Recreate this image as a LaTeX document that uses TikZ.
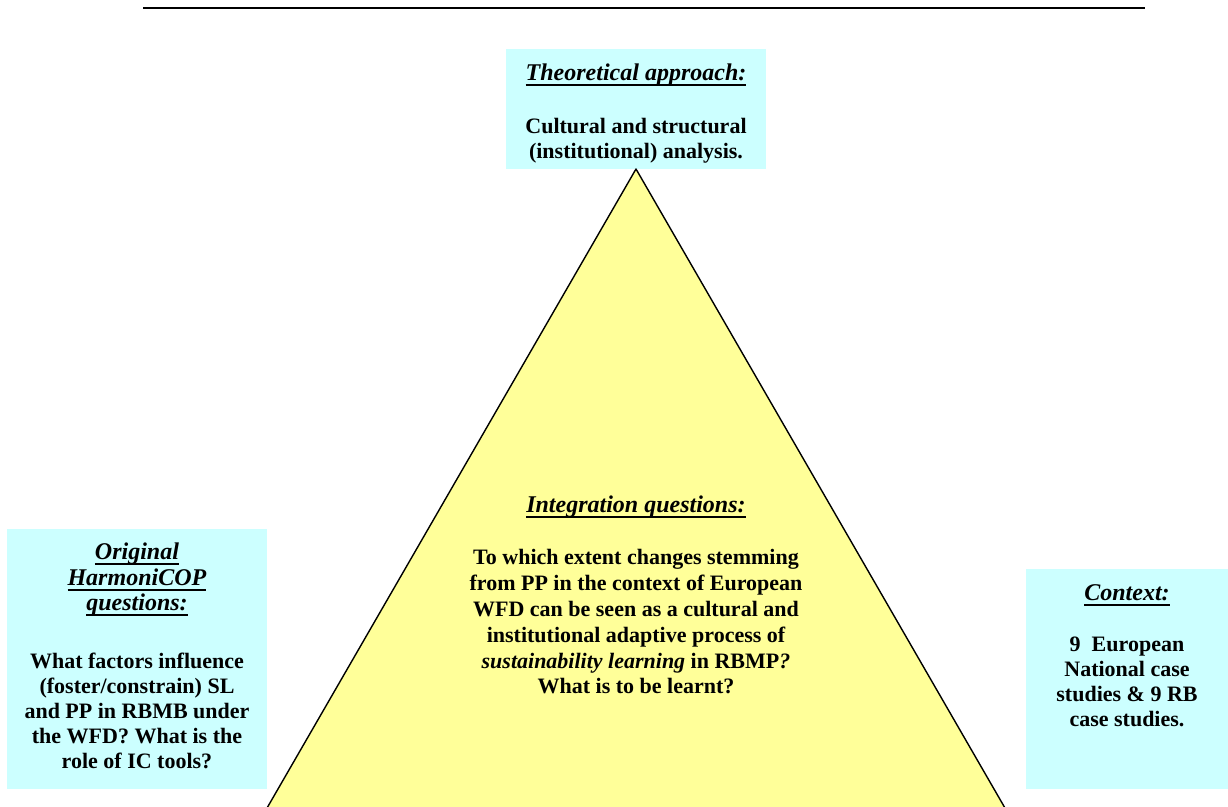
\documentclass[tikz,border=0pt]{standalone}
\usepackage{fontspec}
\setmainfont{Liberation Serif}
\usetikzlibrary{positioning}
\definecolor{cyanpale}{HTML}{CCFFFF}
\definecolor{jaunepale}{HTML}{FFFF99}
%% titre souligne, italique 12pt
\newsavebox\boitetitre
\newcommand\rubrique[1]{{\fontsize{12}{13}\selectfont
  \sbox\boitetitre{\textit{#1}}\rlap{\rule[-2.9pt]{\wd\boitetitre}{0.9pt}}\usebox\boitetitre}}

\begin{document}
\begin{tikzpicture}[x=0.5pt,y=-0.5pt,
  cadre/.style={fill=cyanpale, draw=none, inner sep=0pt, anchor=north west},
  texte/.style={font=\fontsize{11}{12.5}\selectfont\bfseries, align=center, inner sep=0pt, anchor=north},
  bord/.style={line width=0.7pt, line join=round}]
\clip (0,0) rectangle (1228,807);
\fill[white] (0,0) rectangle (1228,807);

%% filet du haut
\coordinate (filetg) at (143,8);
\coordinate (filetd) at (1145,8);
\draw[line width=1pt] (filetg) -- (filetd);

%% ================= cadres bleus ==========================================
\node[cadre, minimum width=130pt, minimum height=60pt] (theo) at (506,49) {};
\node[cadre, minimum width=130pt, minimum height=130pt] (orig) at (7,529) {};
\node[cadre, minimum width=110pt, minimum height=110pt] (cont) at (1026,569) {};

%% ================= triangle jaune ========================================
\coordinate (sommet) at (636,169);
\coordinate (baseg) at (237,860);
\coordinate (based) at (1035,860);
\fill[jaunepale] (baseg) -- (sommet) -- (based) -- cycle;
\draw[bord] (baseg) -- (sommet) -- (based);

%% ================= textes ================================================
\node[texte] (theotxt) at (636,63)
  {\rubrique{Theoretical approach:}\\[14pt]
   Cultural and structural\\ (institutional) analysis.};

\node[texte, font=\fontsize{11}{12.9}\selectfont\bfseries] (integtxt) at (636,495)
  {\rubrique{Integration questions:}\\[13.5pt]
   To which extent changes stemming\\ from PP in the context of European\\
   WFD can be seen as a cultural and\\ institutional adaptive process of\\
   \textit{sustainability learning} in RBMP\textit{?}\\ What is to be learnt?};

\node[texte] (origtxt) at (137,542)
  {\rubrique{Original}\\[0.5pt] \rubrique{HarmoniCOP}\\ \rubrique{questions:}\\[16.5pt]
   What factors influence\\ (foster/constrain) SL\\ and PP in RBMB under\\
   the WFD? What is the\\ role of IC tools?};

\node[texte] (conttxt) at (1127,584)
  {\rubrique{Context:}\\[13pt]
   9~ European\\ National case\\ studies \& 9 RB\\ case studies.};
\end{tikzpicture}
\end{document}
